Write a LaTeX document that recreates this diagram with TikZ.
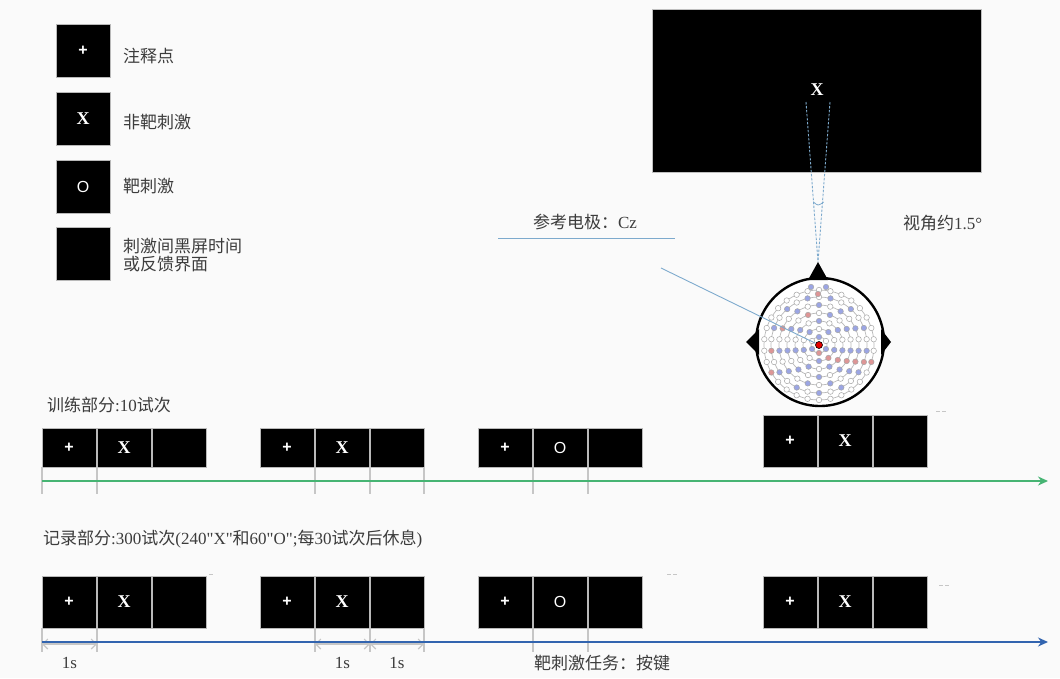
\documentclass[tikz,border=0pt]{standalone}
\usepackage{fontspec}
\setmainfont{Liberation Serif}
\newfontfamily\cjk{Noto Sans CJK SC}
\newfontfamily\boxfont{Liberation Sans}
\usetikzlibrary{positioning,arrows.meta}

\definecolor{bg}{RGB}{250,250,250}
\definecolor{textgray}{RGB}{60,60,60}
\definecolor{tickgray}{RGB}{198,198,198}
\definecolor{trainline}{RGB}{70,180,115}
\definecolor{recline}{RGB}{50,100,175}
\definecolor{refblue}{RGB}{125,170,205}
\definecolor{elecblue}{RGB}{155,165,228}
\definecolor{elecred}{RGB}{222,150,150}

\tikzset{
  stim/.style={draw=gray!55, fill=black, text=white, line width=0.8pt,
    minimum width=54pt, minimum height=#1, inner sep=0pt, outer sep=0pt,
    font=\boxfont\fontsize{16}{16}\selectfont},
  stim/.default=52pt,
  lbl/.style={text=textgray, font=\fontsize{17}{20}\selectfont, inner sep=0pt},
  tick/.style={draw=tickgray, line width=1.2pt},
  dim/.style={draw=tickgray, line width=1.1pt,
    {Straight Barb[length=5pt,width=10pt]}-{Straight Barb[length=5pt,width=10pt]}},
  electrode/.style={circle, draw=gray!70, line width=0.5pt, inner sep=0pt, minimum size=5.5pt},
}

% one trial: fixation, letter, blank screen
\newcommand{\trial}[5]{%
  \node[stim=#4] (#1a) at (#2,#3) {\plus};
  \node[stim=#4, right=1pt of #1a] (#1b) {#5};
  \node[stim=#4, right=1pt of #1b] (#1c) {};
}
\newcommand{\bigx}{{\rmfamily\bfseries\fontsize{18}{18}\selectfont X}}
\newcommand{\plus}{{\bfseries +}}

\begin{document}
\begin{tikzpicture}[x=1pt, y=-1pt]
  \fill[bg] (0,0) rectangle (1060,678);
  \useasboundingbox (0,0) rectangle (1060,678);

  % legend
  \node[stim=53pt] (leg1) at (83,50.5) {\plus};
  \node[stim=53pt, below=15pt of leg1] (leg2) {\bigx};
  \node[stim=53pt, below=15pt of leg2] (leg3) {O};
  \node[stim=53pt, below=14pt of leg3] (leg4) {};
  \node[lbl, anchor=west, right=13pt of leg1, yshift=-6pt] (lab1) {\cjk 注释点};
  \node[lbl, anchor=west, right=13pt of leg2, yshift=-4pt] (lab2) {\cjk 非靶刺激};
  \node[lbl, anchor=west, right=13pt of leg3] (lab3) {\cjk 靶刺激};
  \node[lbl, anchor=west, align=left, right=13pt of leg4, yshift=-2pt] (lab4)
    {\cjk 刺激间黑屏时间\\[-2pt]\cjk 或反馈界面};

  % screen with the letter
  \node[fill=black, draw=gray!50, minimum width=329pt, minimum height=163pt, inner sep=0pt]
    (screen) at (817,90.5) {};
  \node[text=white, inner sep=0pt] (target) at (817,90) {\bigx};

  % head
  \node[circle, draw=black, fill=white, line width=2.4pt, minimum size=128pt, inner sep=0pt]
    (head) at (820,342) {};
  \coordinate (nose) at (818,262);
  \fill (808,280) -- (nose) -- (828,280) -- cycle;
  \fill (759,329) -- (746,342) -- (759,355) -- cycle;
  \fill (881,329) -- (891,342) -- (881,355) -- cycle;

  % electrode rings around Cz
  \coordinate (czpos) at (819,345);
  \foreach \rad/\num [count=\k] in {8/6, 16/10, 24/14, 32/18, 40/22, 48/26, 55/30} {
    \draw[gray!55, line width=0.7pt] (czpos) circle[radius=\rad pt];
    \foreach \i in {1,...,\num} {
      \pgfmathtruncatemacro{\rp}{(mod(\i*7+\k,11)==0)*100}
      \pgfmathtruncatemacro{\bp}{max(100*mod(\i+\k,2)*(\k<7),\rp)}
      \node[electrode, fill=elecred!\rp!elecblue!\bp!white] (e\k-\i)
        at ([shift={(90+360*\i/\num:\rad pt)}]czpos) {};
    }
  }
  \node[electrode, fill=elecblue] (fp1) at (811,287) {};
  \node[electrode, fill=elecblue] (fp2) at (826,287) {};
  \node[electrode, fill=elecred] (fpz) at (818,294) {};
  \node[circle, fill=red!90!black, draw=black, line width=0.6pt, minimum size=7pt, inner sep=0pt]
    (cz) at (czpos) {};

  % reference electrode label
  \node[lbl] (reflabel) at (585,222) {{\cjk 参考电极：}Cz};
  \coordinate (ul1) at (498,238);
  \coordinate (ul2) at (675,238);
  \coordinate (refstart) at (661,268);
  \draw[refblue, line width=0.9pt] (ul1) -- (ul2);
  \draw[refblue, line width=0.9pt] (refstart) -- (cz);

  % visual angle
  \coordinate (eyeL) at (806,102);
  \coordinate (eyeR) at (830,102);
  \draw[refblue, dashed, dash pattern=on 2.5pt off 1.5pt, line width=0.9pt] (eyeL) -- (nose);
  \draw[refblue, dashed, dash pattern=on 2.5pt off 1.5pt, line width=0.9pt] (eyeR) -- (nose);
  \draw[refblue, line width=0.8pt] (813.5,202) .. controls (818,206) .. (823.7,202);
  \node[lbl, anchor=west] (angle) at (903,223) {{\cjk 视角约}1.5\textdegree};

  % training block
  \node[lbl, anchor=west] (trainlabel) at (47,405) {{\cjk 训练部分}:10{\cjk 试次}};
  \trial{t1}{69}{447.5}{39pt}{\bigx}
  \trial{t2}{287}{447.5}{39pt}{\bigx}
  \trial{t3}{505}{447.5}{39pt}{O}
  \trial{t4}{790}{441}{52pt}{\bigx}
  \foreach \n in {t1a,t1b,t2b,t2c,t3b,t3c}
    \draw[tick] (\n.south west) -- ++(0,27);
  \draw[tick] (t2c.south east) -- ++(0,27);
  \coordinate (tstart) at (42,481);
  \coordinate (tend) at (1048,481);
  \draw[trainline, line width=1.6pt, -{Stealth[length=10pt,width=9pt]}] (tstart) -- (tend);

  % recording block
  \node[lbl, anchor=west] (reclabel) at (43,539)
    {{\cjk 记录部分}:300{\cjk 试次}(240\textquotedbl X\textquotedbl{\cjk 和}60\textquotedbl O\textquotedbl;{\cjk 每}30{\cjk 试次后休息})};
  \trial{r1}{69}{602}{52pt}{\bigx}
  \trial{r2}{287}{602}{52pt}{\bigx}
  \trial{r3}{505}{602}{52pt}{O}
  \trial{r4}{790}{602}{52pt}{\bigx}
  \foreach \n in {r1a,r1b,r2b,r2c,r3b,r3c}
    \draw[tick] (\n.south west) -- ++(0,24);
  \draw[tick] (r2c.south east) -- ++(0,24);
  \coordinate (rstart) at (42,642);
  \coordinate (rend) at (1048,642);
  \coordinate (rdim) at (0,644);
  \draw[dim] (r1a.south west |- rdim) -- (r1b.south west |- rdim) node[midway, yshift=-19pt, lbl] (d1) {1s};
  \draw[dim] (r2b.south west |- rdim) -- (r2c.south west |- rdim) node[midway, yshift=-19pt, lbl] (d2) {1s};
  \draw[dim] (r2c.south west |- rdim) -- (r2c.south east |- rdim) node[midway, yshift=-19pt, lbl] (d3) {1s};
  \draw[recline, line width=1.3pt, -{Stealth[length=10pt,width=9pt]}] (rstart) -- (rend);
  \node[lbl, anchor=west] (task) at (534,663) {\cjk 靶刺激任务：按键};

  % small leftover marks
  \draw[gray!45, line width=0.8pt] (936,411) -- (940,411) (942,411) -- (946,411)
    (209,574) -- (213,574) (667,574) -- (671,574) (673,574) -- (677,574)
    (939,585) -- (943,585) (945,585) -- (949,585);
\end{tikzpicture}
\end{document}
